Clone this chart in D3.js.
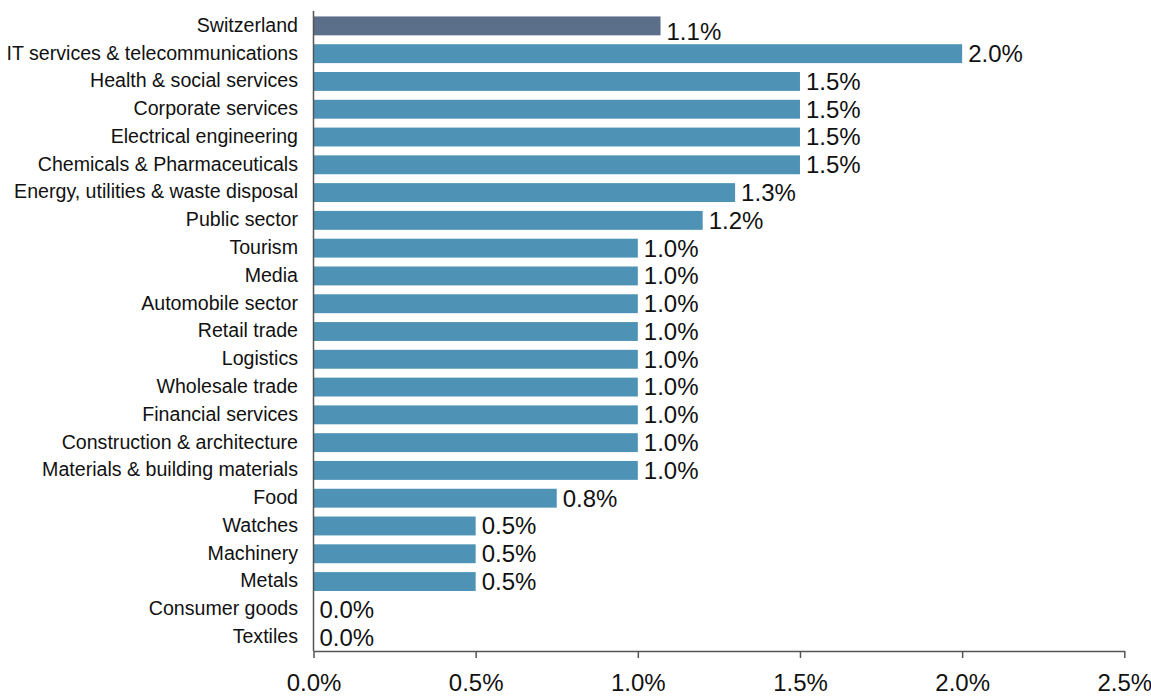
<!DOCTYPE html>
<html>
<head>
<meta charset="utf-8">
<script src="https://cdn.jsdelivr.net/npm/d3@7"></script>
<style>
  html, body { margin: 0; padding: 0; background: #fff; }
  svg { display: block; font-family: "Liberation Sans", Arial, Helvetica, sans-serif; }
</style>
</head>
<body>
<svg id="chart" width="1151" height="697"></svg>
<script>
// Expected employment growth by sector, percent
const categories = [
  "Switzerland",
  "IT services & telecommunications",
  "Health & social services",
  "Corporate services",
  "Electrical engineering",
  "Chemicals & Pharmaceuticals",
  "Energy, utilities & waste disposal",
  "Public sector",
  "Tourism",
  "Media",
  "Automobile sector",
  "Retail trade",
  "Logistics",
  "Wholesale trade",
  "Financial services",
  "Construction & architecture",
  "Materials & building materials",
  "Food",
  "Watches",
  "Machinery",
  "Metals",
  "Consumer goods",
  "Textiles"
];
const values = [1.07, 2.0, 1.5, 1.5, 1.5, 1.5, 1.3, 1.2, 1.0, 1.0, 1.0, 1.0, 1.0, 1.0, 1.0, 1.0, 1.0, 0.75, 0.5, 0.5, 0.5, 0.0, 0.0];
const xTicks = [0, 0.5, 1.0, 1.5, 2.0, 2.5];
const totalLabel = "Switzerland";

const data = categories.map((c, i) => ({ name: c, value: values[i] }));
const fmt = v => v.toFixed(1) + "%";

const svg = d3.select("#chart");
const axisColor = "#555555";

const x = d3.scaleLinear().domain([0, 2.5]).range([313.5, 1124.3]);
const y = d3.scaleBand()
  .domain(categories)
  .range([12, 651])
  .paddingInner(0.32)
  .paddingOuter(0.16);

// bars
svg.append("g")
  .selectAll("rect")
  .data(data)
  .join("rect")
  .attr("x", x(0))
  .attr("y", d => y(d.name))
  .attr("width", d => x(d.value) - x(0))
  .attr("height", y.bandwidth())
  .attr("fill", d => d.name === totalLabel ? "#5b6e8a" : "#4e93b6");

// value labels (the total row's label sits a little lower)
svg.append("g")
  .selectAll("text")
  .data(data)
  .join("text")
  .attr("x", d => x(d.value) + 6)
  .attr("y", d => y(d.name) + y.bandwidth() / 2 + (d.name === totalLabel ? 6 : 0))
  .attr("dy", "0.35em")
  .attr("font-size", "24px")
  .attr("fill", "#111")
  .text(d => fmt(d.value));

// category labels
svg.append("g")
  .selectAll("text")
  .data(data)
  .join("text")
  .attr("x", 298)
  .attr("y", d => y(d.name) + y.bandwidth() / 2)
  .attr("dy", "0.3em")
  .attr("text-anchor", "end")
  .attr("font-size", "19.6px")
  .attr("fill", "#111")
  .text(d => d.name);

// vertical axis line
svg.append("line")
  .attr("x1", x(0)).attr("x2", x(0))
  .attr("y1", 11).attr("y2", 651)
  .attr("stroke", axisColor)
  .attr("stroke-width", 1.5);

// bottom axis
const xAxis = d3.axisBottom(x)
  .tickValues(xTicks)
  .tickSize(7)
  .tickSizeOuter(0)
  .tickPadding(16)
  .tickFormat(fmt);

const gx = svg.append("g")
  .attr("transform", "translate(0,651)")
  .call(xAxis);
gx.select(".domain").attr("stroke", axisColor).attr("stroke-width", 1.5);
gx.selectAll(".tick line").attr("stroke", axisColor).attr("stroke-width", 1.5);
gx.selectAll(".tick text")
  .attr("font-size", "24px")
  .attr("font-family", "\"Liberation Sans\", Arial, Helvetica, sans-serif")
  .attr("fill", "#111");
</script>
</body>
</html>
